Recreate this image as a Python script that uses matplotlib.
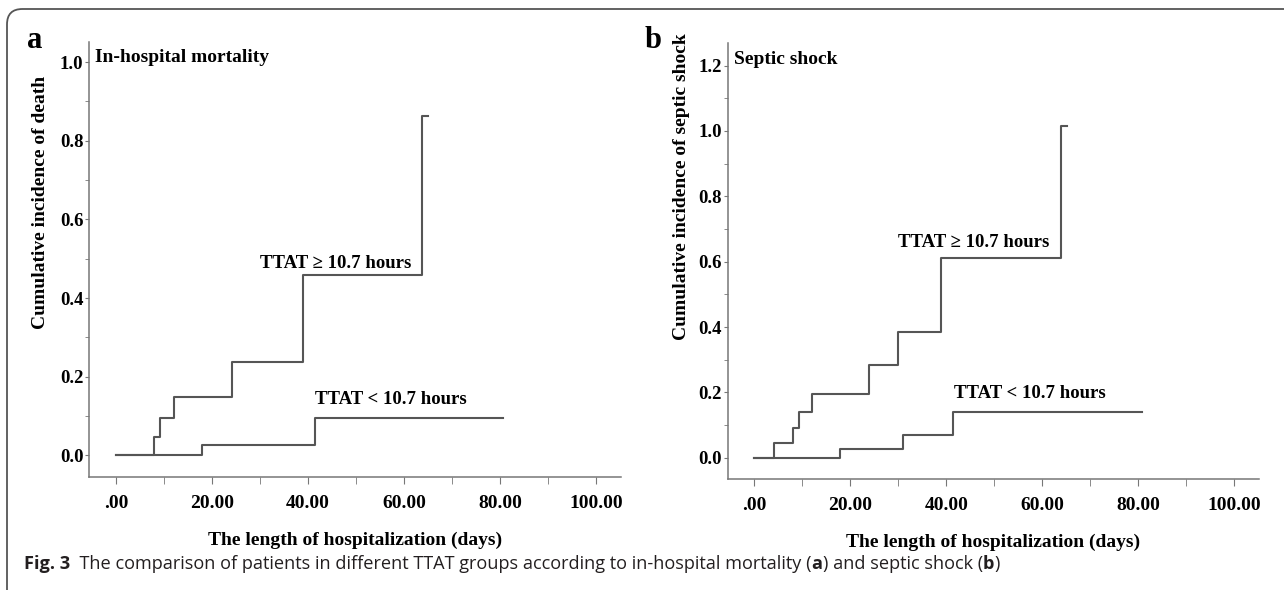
import matplotlib.pyplot as plt
from matplotlib.patches import FancyBboxPatch
from matplotlib.ticker import MultipleLocator, FuncFormatter

# Curvas de incidencia acumulada (días, incidencia)
a_alto_t = [0, 7.9, 9.2, 12.0, 24.1, 39.0, 63.7, 65.1]
a_alto_v = [0, 0.047, 0.094, 0.149, 0.237, 0.459, 0.863, 0.863]
a_bajo_t = [0, 18.0, 41.4, 80.6]
a_bajo_v = [0, 0.025, 0.095, 0.095]

b_alto_t = [0, 4.1, 8.1, 9.4, 12.0, 24.0, 30.0, 39.0, 64.0, 65.2]
b_alto_v = [0, 0.044, 0.091, 0.141, 0.195, 0.283, 0.385, 0.611, 1.016, 1.016]
b_bajo_t = [0, 17.9, 31.0, 41.4, 80.8]
b_bajo_v = [0, 0.026, 0.071, 0.141, 0.141]

etiqueta_alto = 'TTAT ≥ 10.7 hours'
etiqueta_bajo = 'TTAT < 10.7 hours'
x_ticks = [0, 20, 40, 60, 80, 100]

SERIF = 'Liberation Serif'
GRIS = '#555555'

fig = plt.figure(figsize=(12.84, 5.9), dpi=100)

# Marco redondeado (solo se ven el borde superior e izquierdo)
marco = FancyBboxPatch((7 / 1284, -0.2), 1.2, 1.2 - 9 / 590,
                       boxstyle='round,pad=0,rounding_size=0.012',
                       transform=fig.transFigure, fill=False,
                       edgecolor=GRIS, linewidth=1.3, mutation_aspect=1284 / 590)
fig.patches.append(marco)


def panel(pos, t1, v1, t2, v2, ylim, titulo, ylabel, pos_ylabel,
          txt_alto, txt_bajo, letra, pos_letra):
    ax = fig.add_axes(pos)
    ax.step(t1, v1, where='post', color=GRIS, linewidth=1.5)
    ax.step(t2, v2, where='post', color=GRIS, linewidth=1.5)
    ax.set_xlim(-5.6, 105.2)
    ax.set_ylim(*ylim)
    for s in ['top', 'right']:
        ax.spines[s].set_visible(False)
    for s in ['left', 'bottom']:
        ax.spines[s].set_color('#777777')
        ax.spines[s].set_linewidth(1.1)
    ax.set_xticks(x_ticks)
    ax.xaxis.set_minor_locator(MultipleLocator(10))
    ax.yaxis.set_major_locator(MultipleLocator(0.2))
    ax.yaxis.set_minor_locator(MultipleLocator(0.1))
    ax.xaxis.set_major_formatter(FuncFormatter(lambda v, p: '.00' if v == 0 else f'{v:.2f}'))
    ax.yaxis.set_major_formatter(FuncFormatter(lambda v, p: f'{v:.1f}'))
    ax.tick_params(axis='x', which='both', length=5, color='#777777', pad=8)
    ax.tick_params(axis='y', which='both', length=3, color='#777777', pad=1)
    for lab in ax.get_xticklabels():
        lab.set_fontfamily(SERIF)
        lab.set_fontweight('bold')
        lab.set_fontsize(14)
    for lab in ax.get_yticklabels():
        lab.set_fontfamily(SERIF)
        lab.set_fontweight('bold')
        lab.set_fontsize(13.5)
    ax.set_xlabel('The length of hospitalization (days)', fontfamily=SERIF,
                  fontweight='bold', fontsize=14, labelpad=14)
    fig.text(pos_ylabel[0], pos_ylabel[1], ylabel, rotation=90, ha='center', va='center',
             fontfamily=SERIF, fontweight='bold', fontsize=14)
    ax.text(-4.3, titulo[1], titulo[0], ha='left', va='center',
            fontfamily=SERIF, fontweight='bold', fontsize=14)
    ax.text(txt_alto[0], txt_alto[1], etiqueta_alto, ha='left', va='center',
            fontfamily=SERIF, fontweight='bold', fontsize=13.5)
    ax.text(txt_bajo[0], txt_bajo[1], etiqueta_bajo, ha='left', va='center',
            fontfamily=SERIF, fontweight='bold', fontsize=13.5)
    fig.text(pos_letra[0], pos_letra[1], letra, ha='left', va='center',
             fontfamily=SERIF, fontweight='bold', fontsize=22)
    return ax


panel([89 / 1284, 1 - 477.3 / 590, 532 / 1284, 435.6 / 590],
      a_alto_t, a_alto_v, a_bajo_t, a_bajo_v, (-0.056, 1.052),
      ('In-hospital mortality', 1.011), 'Cumulative incidence of death', (41 / 1284, 1 - 202 / 590),
      (30.0, 0.489), (41.5, 0.141), 'a', (27 / 1284, 1 - 40 / 590))

panel([727.5 / 1284, 1 - 479.3 / 590, 531.5 / 1284, 436.3 / 590],
      b_alto_t, b_alto_v, b_bajo_t, b_bajo_v, (-0.066, 1.269),
      ('Septic shock', 1.217), 'Cumulative incidence of septic shock', (681 / 1284, 1 - 187 / 590),
      (30.0, 0.658), (41.7, 0.197), 'b', (645 / 1284, 1 - 40 / 590))

# Pie de figura con partes en negrita
partes = [('Fig. 3', 'bold'),
          ('  The comparison of patients in different TTAT groups according to in-hospital mortality (', 'normal'),
          ('a', 'bold'), (') and septic shock (', 'normal'), ('b', 'bold'), (')', 'normal')]
fig.canvas.draw()
r = fig.canvas.get_renderer()
x = 24
for txt, peso in partes:
    t = fig.text(x / 1284, 1 - 564 / 590, txt, ha='left', va='center', fontweight=peso,
                 fontfamily='Open Sans', fontsize=13.1, color='#231f20')
    x += t.get_window_extent(renderer=r).width

fig.savefig('out.png', dpi=100)
